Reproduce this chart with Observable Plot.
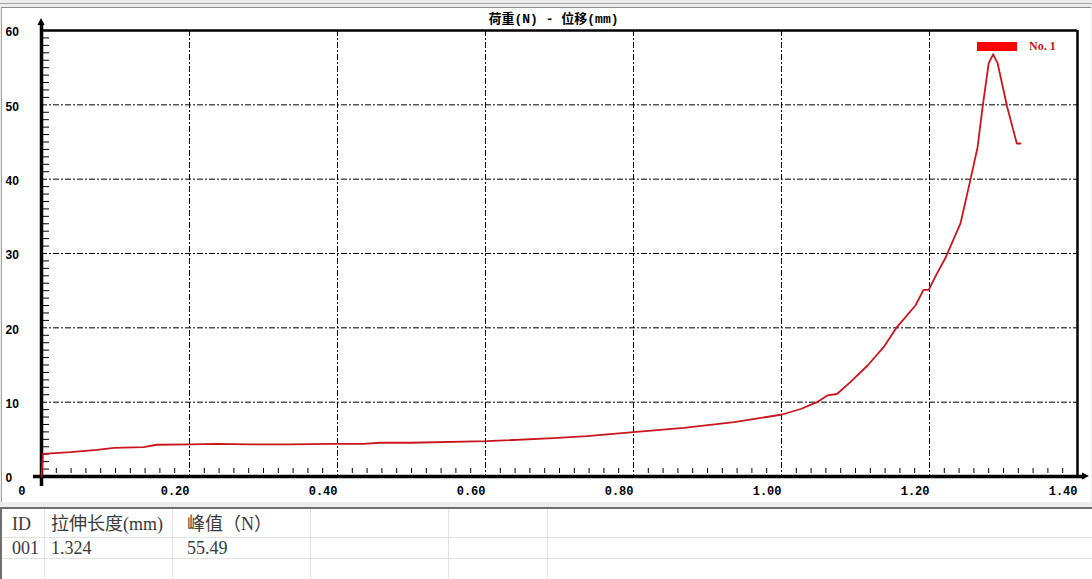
<!DOCTYPE html>
<html><head><meta charset="utf-8">
<script src="https://cdn.jsdelivr.net/npm/d3@7"></script>
<script src="https://cdn.jsdelivr.net/npm/@observablehq/plot@0.6"></script>
<style>
html,body{margin:0;padding:0;}
body{width:1092px;height:579px;overflow:hidden;background:#ececec;position:relative;font-family:"Liberation Serif","Noto Sans CJK SC",serif;}
#topline{position:absolute;left:0;top:3px;width:1092px;height:1px;background:#a6a6a6;}
#panel{position:absolute;left:1px;top:7px;width:1090px;height:495px;background:#fff;border-top:1px solid #8c8c8c;border-left:1px solid #a0a0a0;box-sizing:border-box;}
#chart{position:absolute;left:0;top:0;}
#table{position:absolute;left:0;top:507px;width:1092px;height:72px;background:#fff;border-top:2px solid #6e6e6e;border-left:2px solid #6e6e6e;box-sizing:border-box;}
.vl{position:absolute;top:0;bottom:0;width:1px;background:#e2e2e2;}
.hl{position:absolute;left:0;right:0;height:1px;background:#e2e2e2;}
.cell{position:absolute;font-size:18px;color:#3a3a3a;line-height:18px;white-space:nowrap;}
</style></head><body>
<div id="topline"></div>
<div id="panel"></div>
<div id="chart"></div>
<div id="table"></div>
<script>
// ---- data ----
const titleText = "荷重(N) - 位移(mm)";
const legendLabel = "No. 1";
const displacement = [0, 0.002, 0.039, 0.075, 0.098, 0.138, 0.156, 0.201, 0.237, 0.282, 0.336, 0.391, 0.435, 0.458, 0.499, 0.602, 0.692, 0.737, 0.800, 0.868, 0.936, 1.001, 1.026, 1.048, 1.062, 1.075, 1.093, 1.116, 1.138, 1.156, 1.181, 1.192, 1.199, 1.210, 1.222, 1.242, 1.255, 1.265, 1.272, 1.280, 1.286, 1.292, 1.305, 1.318, 1.323];
const load = [0, 3.05, 3.27, 3.59, 3.86, 3.94, 4.27, 4.31, 4.40, 4.31, 4.31, 4.40, 4.40, 4.54, 4.54, 4.75, 5.15, 5.42, 5.96, 6.55, 7.31, 8.34, 9.08, 10.0, 10.9, 11.1, 12.7, 14.9, 17.4, 20.1, 23.0, 25.1, 25.1, 27.3, 29.5, 34.1, 39.8, 44.3, 49.9, 55.6, 56.8, 55.6, 49.7, 44.8, 44.8];
const xTicks = [0.2, 0.4, 0.6, 0.8, 1.0, 1.2, 1.4];
const yTicks = [0, 10, 20, 30, 40, 50, 60];
const xGrid = [0.2, 0.4, 0.6, 0.8, 1.0, 1.2];
const yGrid = [10, 20, 30, 40, 50];
const xMinor = d3.range(1, 70).filter(i => i % 10 !== 0).map(i => i * 0.02);
const yMinor = d3.range(1, 60).filter(d => d % 10 !== 0);
const tableHeaders = ["ID", "拉伸长度(mm)", "峰值（N）"];
const tableRow = ["001", "1.324", "55.49"];

const curve = displacement.map((x, i) => ({x, y: load[i]}));

const W = 1092, H = 503, mL = 41, mR = 15, mT = 30, mB = 27;
const fw = W - mL - mR, fh = H - mT - mB;
const grid = {stroke: "#000", strokeWidth: 1, strokeDasharray: "6,2,2,2"};
const tickFont = {fontSize: 12, fontWeight: "bold", fill: "#000"};

const chart = Plot.plot({
  width: W, height: H,
  marginLeft: mL, marginRight: mR, marginTop: mT, marginBottom: mB,
  style: {background: "transparent", overflow: "visible"},
  x: {domain: [0, 1.4], label: null},
  y: {domain: [0, 60], label: null},
  marks: [
    Plot.ruleX(xGrid, grid),
    Plot.ruleY(yGrid, grid),
    Plot.ruleX(xMinor, {stroke: "#000", strokeWidth: 1, insetTop: fh - 8, insetBottom: 3}),
    Plot.ruleY(yMinor, {stroke: "#000", strokeWidth: 1, insetLeft: 2, insetRight: fw - 8}),
    Plot.ruleY([60], {stroke: "#000", strokeWidth: 2.5}),
    Plot.ruleX([1.4], {stroke: "#000", strokeWidth: 2.5}),
    Plot.ruleX([0], {stroke: "#000", strokeWidth: 3.5, insetTop: -8, insetBottom: -10}),
    Plot.ruleY([0], {stroke: "#000", strokeWidth: 3.5, insetLeft: -8, insetRight: -8}),
    Plot.axisY(yTicks, {label: null, tickSize: 0, tickPadding: 0, textAnchor: "start", dx: -36, dy: 2,
      fontFamily: "Liberation Sans", ...tickFont}),
    Plot.axisX(xTicks, {label: null, tickSize: 0, tickPadding: 10, textAnchor: "end", tickFormat: d3.format(".2f"),
      fontFamily: "Liberation Mono", ...tickFont}),
    Plot.axisX([0], {label: null, tickSize: 0, tickPadding: 10, textAnchor: "end", dx: -16, tickFormat: () => "0",
      fontFamily: "Liberation Mono", ...tickFont}),
    Plot.line(curve, {x: "x", y: "y", stroke: "#c8161e", strokeWidth: 1.8}),
    Plot.text([titleText], {frameAnchor: "top", dy: -12, dx: -6, lineAnchor: "middle",
      fontSize: 13, fontWeight: "bold", fontFamily: "Liberation Mono, Noto Sans CJK SC", fill: "#000"}),
    (index, scales) => {
      const g = d3.create("svg:g");
      const xr = scales.x(1.4), yt = scales.y(60), x0 = scales.x(0), y0 = scales.y(0);
      g.append("rect").attr("x", xr - 100).attr("y", yt + 12).attr("width", 40).attr("height", 9).attr("fill", "#f00");
      g.append("text").attr("x", xr - 48).attr("y", yt + 17).attr("dominant-baseline", "middle")
        .attr("text-anchor", "start")
        .attr("fill", "#d01010").attr("font-size", 12).attr("font-weight", "bold")
        .attr("font-family", "Liberation Serif").text(legendLabel);
      g.append("path").attr("d", `M${x0 - 3.5},${yt - 5} L${x0},${yt - 12} L${x0 + 3.5},${yt - 5}Z`).attr("fill", "#000");
      g.append("path").attr("d", `M${xr + 5},${y0 - 3.5} L${xr + 12},${y0} L${xr + 5},${y0 + 3.5}Z`).attr("fill", "#000");
      return g.node();
    }
  ]
});
document.getElementById("chart").appendChild(chart);

// ---- table ----
const tbl = document.getElementById("table");
[42, 170, 308, 446, 545].forEach(x => {
  const d = document.createElement("div"); d.className = "vl"; d.style.left = x + "px"; tbl.appendChild(d);
});
[28, 49].forEach(y => {
  const d = document.createElement("div"); d.className = "hl"; d.style.top = y + "px"; tbl.appendChild(d);
});
const colLeft = [10, 49, 185];
tableHeaders.forEach((t, i) => {
  const d = document.createElement("div"); d.className = "cell"; d.textContent = t;
  d.style.left = colLeft[i] + "px"; d.style.top = "6px"; tbl.appendChild(d);
});
tableRow.forEach((t, i) => {
  const d = document.createElement("div"); d.className = "cell"; d.textContent = t;
  d.style.left = colLeft[i] + "px"; d.style.top = "30px"; tbl.appendChild(d);
});
</script>
</body></html>
